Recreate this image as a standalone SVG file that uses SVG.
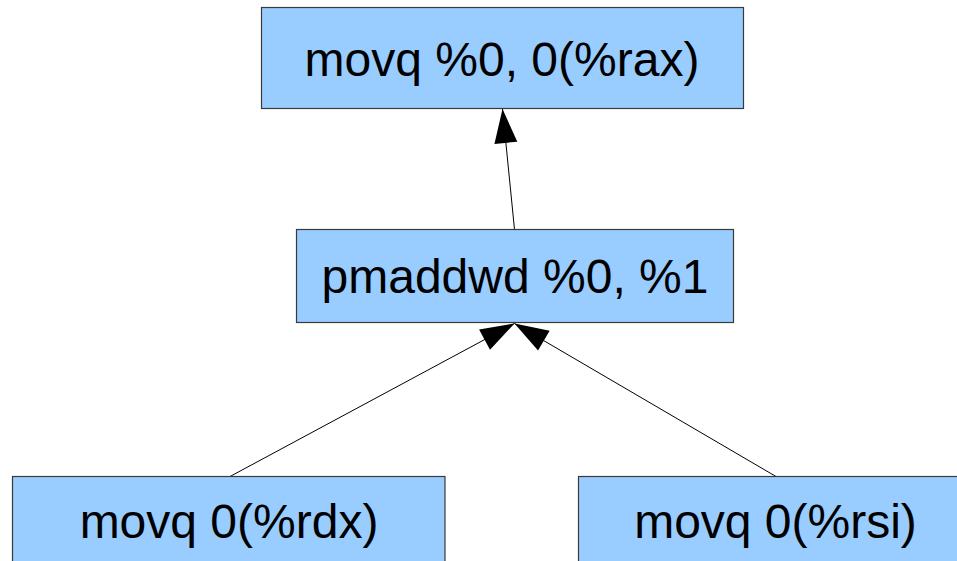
<svg xmlns="http://www.w3.org/2000/svg" width="957" height="561" viewBox="0 0 957 561">
  <style>
    .box { fill: #99ccff; stroke: #3a3a3a; stroke-width: 1.2; }
    .lbl { font-family: "Liberation Sans", Arial, sans-serif; font-size: 48px; fill: #000; text-anchor: middle; }
    .edge { stroke: #000; stroke-width: 1; fill: none; marker-end: url(#arrow); }
  </style>
  <defs>
    <marker id="arrow" markerUnits="userSpaceOnUse" markerWidth="36" markerHeight="24" refX="34" refY="11.5" orient="auto" overflow="visible">
      <path d="M0,0 L34,11.5 L0,23 Z" fill="#000"/>
    </marker>
  </defs>
  <rect width="957" height="561" fill="#ffffff"/>

  <g id="edges">
    <line class="edge" x1="514.5" y1="229.5" x2="502.5" y2="109"/>
    <line class="edge" x1="230" y1="476.5" x2="514.5" y2="323.5"/>
    <line class="edge" x1="776" y1="476.5" x2="514.5" y2="323.5"/>
  </g>

  <g id="node-store">
    <rect class="box" x="261.5" y="7.5" width="482" height="101"/>
    <text class="lbl" x="502" y="76">movq %0, 0(%rax)</text>
  </g>

  <g id="node-pmaddwd">
    <rect class="box" x="296.5" y="229.5" width="437" height="93"/>
    <text class="lbl" x="515" y="293">pmaddwd %0, %1</text>
  </g>

  <g id="node-load-rdx">
    <rect class="box" x="12.5" y="476.5" width="432.5" height="95"/>
    <text class="lbl" x="229" y="538">movq 0(%rdx)</text>
  </g>

  <g id="node-load-rsi">
    <rect class="box" x="578.5" y="476.5" width="394" height="95"/>
    <text class="lbl" x="775.5" y="538">movq 0(%rsi)</text>
  </g>
</svg>
